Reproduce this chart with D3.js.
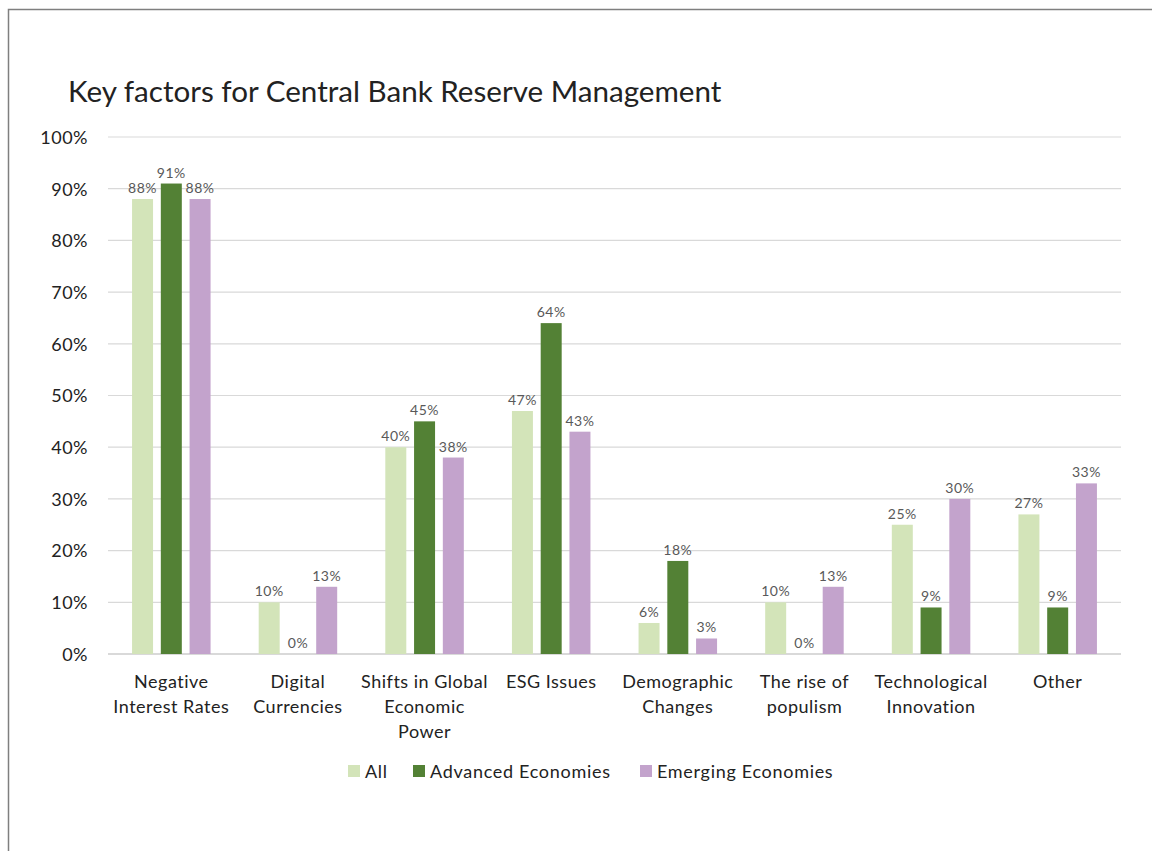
<!DOCTYPE html>
<html lang="en">
<head>
<meta charset="utf-8">
<title>Key factors for Central Bank Reserve Management</title>
<style>
    body { margin: 0; background: #fff; }
    text { font-family: Lato, "Open Sans", sans-serif; }
    .title { font-size: 29.6px; fill: #222; }
    .axis text { font-size: 18px; fill: #222; letter-spacing: 0.5px; }
    .lbl { font-size: 14px; fill: #595959; letter-spacing: 0.5px; }
    .legend text { font-size: 18px; fill: #222; letter-spacing: 0.7px; }
</style>
<script src="https://d3js.org/d3.v7.min.js"></script>
</head>
<body>
<svg width="1152" height="851"></svg>
<script>
    const categories = [
        ["Negative", "Interest Rates"],
        ["Digital", "Currencies"],
        ["Shifts in Global", "Economic", "Power"],
        ["ESG Issues"],
        ["Demographic", "Changes"],
        ["The rise of", "populism"],
        ["Technological", "Innovation"],
        ["Other"]
    ];
    const seriesNames = ["All", "Advanced Economies", "Emerging Economies"];
    const allValues = [88, 10, 40, 47, 6, 10, 25, 27];
    const advancedValues = [91, 0, 45, 64, 18, 0, 9, 9];
    const emergingValues = [88, 13, 38, 43, 3, 13, 30, 33];
    const colors = ["#d3e4b9", "#538135", "#c3a3cc"];
    const yTicks = [0, 10, 20, 30, 40, 50, 60, 70, 80, 90, 100];

    const series = [allValues, advancedValues, emergingValues];

    let svg = d3.select("svg"),
        plotLeft = 108, plotRight = 1121, plotTop = 137, plotBottom = 654;

    // chart frame (only top and left edges show in the picture)
    svg.append("path")
        .attr("d", "M8.5,851 V9.5 H1152")
        .attr("fill", "none")
        .attr("stroke", "#7f7f7f")
        .attr("stroke-width", 1.5);

    svg.append("text")
        .attr("class", "title")
        .attr("x", 68)
        .attr("y", 102)
        .text("Key factors for Central Bank Reserve Management");

    let x = d3.scaleBand()
        .domain(d3.range(categories.length))
        .range([plotLeft, plotRight])
        .paddingInner(0.38)
        .paddingOuter(0.19);

    let x1 = d3.scaleBand()
        .domain(d3.range(series.length))
        .range([0, x.bandwidth()])
        .paddingInner(0.27);

    let y = d3.scaleLinear().domain([0, 100]).range([plotBottom, plotTop]);

    // gridlines
    svg.append("g")
        .selectAll("line")
        .data(yTicks)
        .join("line")
        .attr("x1", plotLeft)
        .attr("x2", plotRight)
        .attr("y1", d => y(d))
        .attr("y2", d => y(d))
        .attr("stroke", "#d9d9d9")
        .attr("stroke-width", d => d === 0 ? 2 : 1.2);

    // y axis labels
    let yAxis = svg.append("g")
        .attr("class", "axis")
        .attr("transform", "translate(" + (plotLeft - 20) + ",0)")
        .call(d3.axisLeft(y).tickValues(yTicks).tickFormat(d => d + "%").tickSize(0).tickPadding(0));
    yAxis.select(".domain").remove();
    yAxis.selectAll("text").attr("dy", "0.35em");

    // bars
    let groups = svg.append("g")
        .selectAll("g")
        .data(series)
        .join("g")
        .attr("fill", (d, i) => colors[i]);

    groups.each(function (vals, s) {
        let g = d3.select(this);
        g.selectAll("rect")
            .data(vals)
            .join("rect")
            .attr("x", (d, i) => x(i) + x1(s))
            .attr("width", x1.bandwidth())
            .attr("y", d => y(d))
            .attr("height", d => plotBottom - y(d));
        g.selectAll("text")
            .data(vals)
            .join("text")
            .attr("class", "lbl")
            .attr("x", (d, i) => x(i) + x1(s) + x1.bandwidth() / 2)
            .attr("y", d => y(d) - 6)
            .attr("text-anchor", "middle")
            .text(d => d + "%");
    });

    // category labels
    let xl = svg.append("g").attr("class", "axis");
    xl.selectAll("text")
        .data(categories)
        .join("text")
        .attr("text-anchor", "middle")
        .attr("x", (d, i) => x(i) + x.bandwidth() / 2)
        .attr("y", 688)
        .each(function (lines) {
            let t = d3.select(this);
            lines.forEach((l, k) => {
                t.append("tspan")
                    .attr("x", t.attr("x"))
                    .attr("dy", k === 0 ? 0 : 25)
                    .text(l);
            });
        });

    // legend
    const legendX = [348, 413, 640];
    let legend = svg.append("g").attr("class", "legend");
    seriesNames.forEach((name, i) => {
        legend.append("rect")
            .attr("x", legendX[i])
            .attr("y", 765)
            .attr("width", 12)
            .attr("height", 12)
            .attr("fill", colors[i]);
        legend.append("text")
            .attr("x", legendX[i] + 17)
            .attr("y", 778)
            .text(name);
    });
</script>
</body>
</html>
